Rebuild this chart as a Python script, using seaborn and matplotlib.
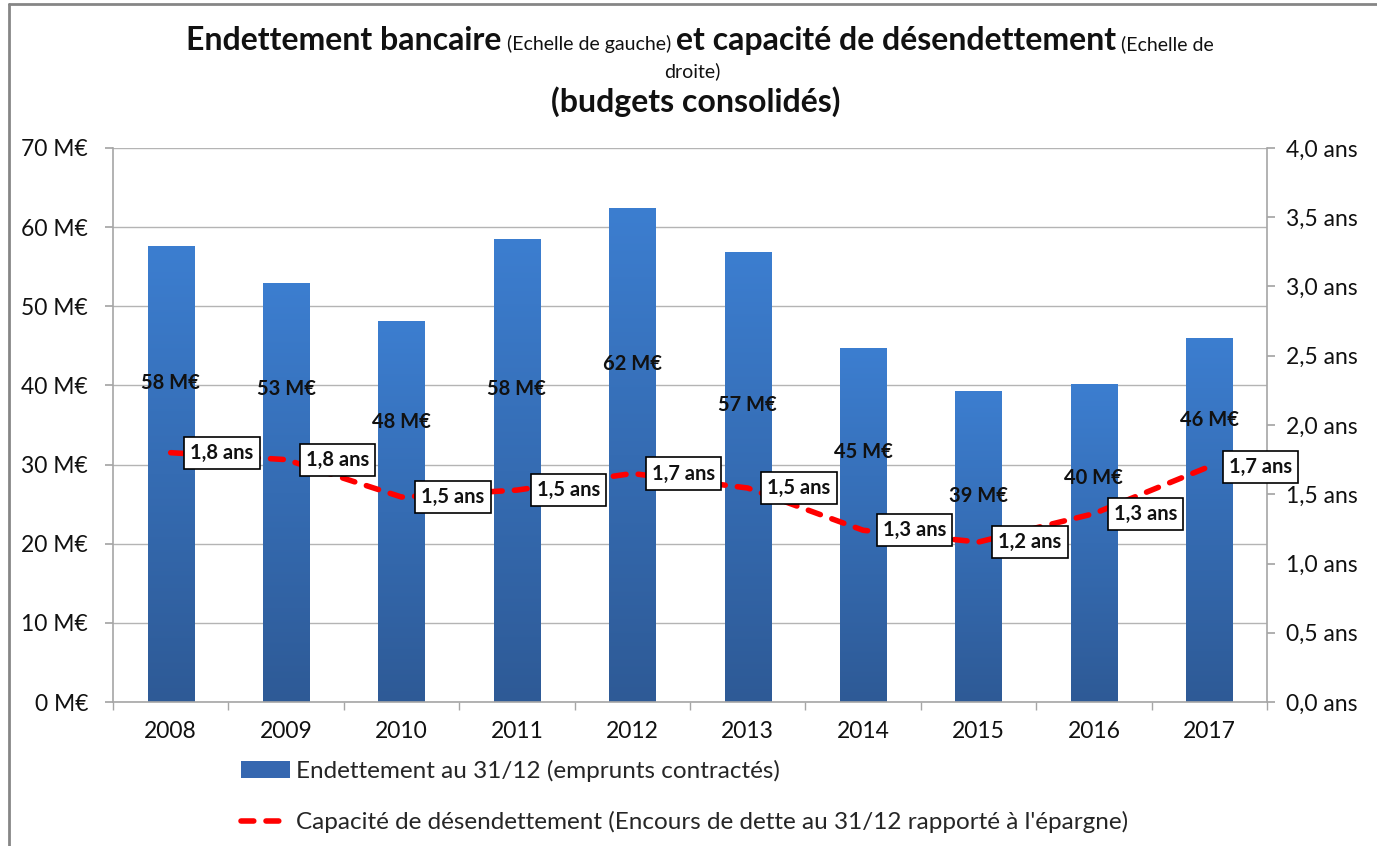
import numpy as np
import pandas as pd
import seaborn as sns
import matplotlib
matplotlib.use("Agg")
import matplotlib.pyplot as plt
from matplotlib.colors import LinearSegmentedColormap
from matplotlib.patches import Patch
from matplotlib.lines import Line2D

# data
years = ["2008", "2009", "2010", "2011", "2012", "2013", "2014", "2015", "2016", "2017"]
debt = [57.6, 52.9, 48.1, 58.5, 62.4, 56.9, 44.7, 39.3, 40.2, 46.0]          # M€
debt_labels = ["58 M€", "53 M€", "48 M€", "58 M€", "62 M€", "57 M€", "45 M€", "39 M€", "40 M€", "46 M€"]
ratio = [1.80, 1.75, 1.48, 1.53, 1.65, 1.545, 1.24, 1.155, 1.36, 1.70]       # years
ratio_labels = ["1,8 ans", "1,8 ans", "1,5 ans", "1,5 ans", "1,7 ans", "1,5 ans", "1,3 ans", "1,2 ans", "1,3 ans", "1,7 ans"]

# layout: height (M€) where the bar labels sit, as in the original
debt_label_y = [40.3, 39.6, 35.4, 39.6, 42.7, 37.5, 31.6, 26.0, 28.3, 35.6]

FONT = "Lato"
GREY = "#a6a6a6"
TXT = "#111111"

sns.set_theme(style="white")
plt.rcParams['font.family'] = [FONT, 'DejaVu Sans']

W, H = 1377, 846
fig = plt.figure(figsize=(W / 100, H / 100), dpi=100)
ax = fig.add_axes([113 / W, 1 - 702 / H, (1267 - 113) / W, (702 - 148) / H])

df = pd.DataFrame({"year": years, "debt": debt})
sns.barplot(data=df, x="year", y="debt", ax=ax, width=0.4, color="#3567b0",
            saturation=1, edgecolor="none", zorder=2)

# vertical gradient on each bar
cmap = LinearSegmentedColormap.from_list("bar", ["#2e5a96", "#3c7ed0"])
grad = np.linspace(0, 1, 256).reshape(-1, 1)
for p in ax.patches:
    x0, w, h = p.get_x(), p.get_width(), p.get_height()
    im = ax.imshow(grad, extent=[x0, x0 + w, 0, h], origin="lower", aspect="auto",
                   cmap=cmap, zorder=2.1, interpolation="bicubic")
    im.set_clip_path(p)

ax.set_xlim(-0.5, len(years) - 0.5)
ax.set_ylim(0, 70)
ax.set_yticks(range(0, 71, 10))
ax.set_yticklabels([f"{v} M€" for v in range(0, 71, 10)])
ax.set_xlabel("")
ax.set_ylabel("")
ax.grid(axis="y", color="#b4b4b4", lw=1, zorder=0)
ax.set_axisbelow(True)
for s in ["left", "bottom"]:
    ax.spines[s].set_color(GREY)
    ax.spines[s].set_linewidth(1.2)
ax.spines["top"].set_visible(False)
ax.spines["right"].set_visible(False)
ax.tick_params(axis="y", which="major", left=True, length=6, color=GREY, pad=12,
               labelsize=16.5, labelcolor=TXT)
ax.set_xticks(np.arange(-0.5, len(years), 1), minor=True)
ax.tick_params(axis="x", which="major", length=0, pad=14, labelsize=16.5, labelcolor=TXT)
ax.tick_params(axis="x", which="minor", bottom=True, length=6, color=GREY, width=1)

for i, (lab, y) in enumerate(zip(debt_labels, debt_label_y)):
    ax.text(i, y, lab, ha="center", va="center", fontsize=14.5, fontweight="bold",
            color=TXT, zorder=3)

# right axis: capacité de désendettement
ax2 = ax.twinx()
sns.lineplot(x=np.arange(len(years)), y=ratio, ax=ax2, color="#ff0000", lw=4,
             zorder=4)
ln = ax2.lines[0]
ln.set_dashes((2.3, 2.2))
ln.set_dash_capstyle("round")
ax2.set_ylim(0, 4)
ax2.set_yticks(np.arange(0, 4.01, 0.5))
ax2.set_yticklabels([f"{v:.1f} ans".replace(".", ",") for v in np.arange(0, 4.01, 0.5)])
ax2.set_xlim(-0.5, len(years) - 0.5)
ax2.set_ylabel("")
for s in ["left", "top", "bottom"]:
    ax2.spines[s].set_visible(False)
ax2.spines["right"].set_color(GREY)
ax2.spines["right"].set_linewidth(1.2)
ax2.tick_params(axis="y", right=True, length=6, color=GREY, pad=8, labelsize=16.5,
                labelcolor=TXT)
ax2.grid(False)

for i, (lab, r) in enumerate(zip(ratio_labels, ratio)):
    ax2.annotate(lab, xy=(i, r), xytext=(37, 0), textcoords="offset points",
                 ha="center", va="center", fontsize=14.5, fontweight="bold", color=TXT,
                 bbox=dict(boxstyle="square,pad=0.3", fc="white", ec="black", lw=1.2),
                 zorder=5)

# title, built piece by piece to mix sizes on one line
renderer = fig.canvas.get_renderer()

def title_line(pieces, cx, base_y, gap=5):
    texts = []
    for s, size, bold in pieces:
        t = fig.text(0, 1 - base_y / H, s, fontsize=size, fontweight="bold" if bold else "normal",
                     va="baseline", ha="left", color=TXT)
        texts.append(t)
    widths = [t.get_window_extent(renderer).width for t in texts]
    total = sum(widths) + gap * (len(texts) - 1)
    x = cx - total / 2
    for t, w in zip(texts, widths):
        t.set_x(x / W)
        x += w + gap

title_line([("Endettement bancaire", 23, True), ("(Echelle de gauche)", 14, False),
            ("et capacité de désendettement", 23, True), ("(Echelle de", 14, False)],
           700, 50)
title_line([("droite)", 14, False)], 692, 77)
title_line([("(budgets consolidés)", 23, True)], 696, 112)

# legend
handles = [Patch(facecolor="#3567b0", edgecolor="none"),
           Line2D([0], [0], color="#ff0000", lw=4, dashes=(2.3, 2.2), dash_capstyle="round")]
labels = ["Endettement au 31/12 (emprunts contractés)",
          "Capacité de désendettement (Encours de dette au 31/12 rapporté à l'épargne)"]
fig.legend(handles, labels, loc="upper left", bbox_to_anchor=(241 / W, 1 - 760 / H),
           frameon=False, fontsize=17.5, handlelength=2.0, handletextpad=0.25,
           labelspacing=1.2, borderaxespad=0, borderpad=0)

# outer chart border (top and left visible)
fig.add_artist(Line2D([9 / W, 1], [1 - 4 / H, 1 - 4 / H], transform=fig.transFigure,
                      color="#868686", lw=2))
fig.add_artist(Line2D([9 / W, 9 / W], [0, 1 - 4 / H], transform=fig.transFigure,
                      color="#868686", lw=2))

fig.savefig("out.png", dpi=100)
